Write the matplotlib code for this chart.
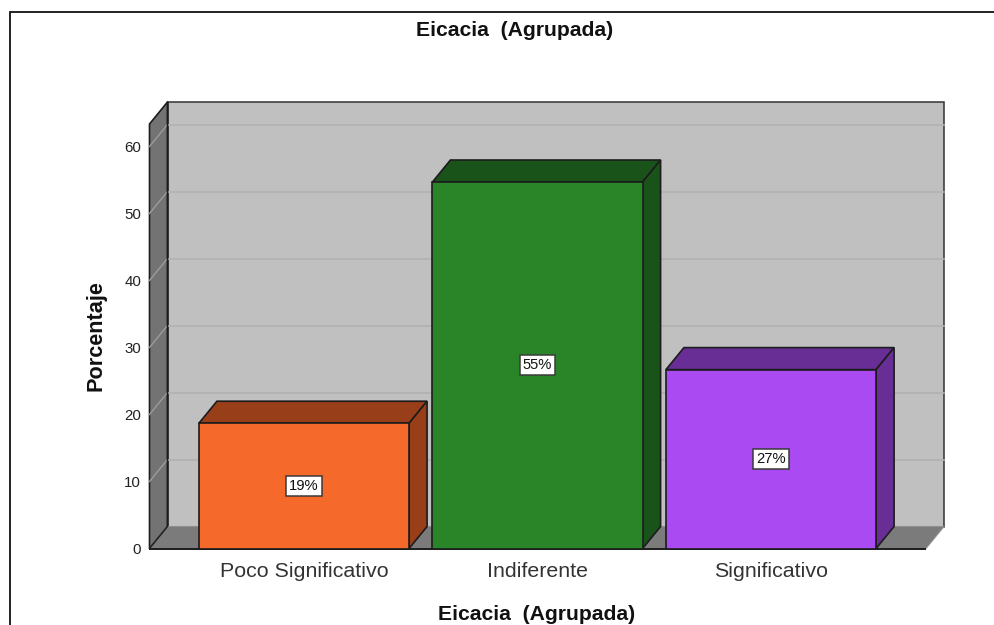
#!/usr/bin/python
# -*- coding: utf-8 -*-

import matplotlib
matplotlib.use("Agg")
import matplotlib.pyplot as plt
from matplotlib.patches import Polygon, Rectangle

plt.rcParams['font.family'] = ['Liberation Sans', 'DejaVu Sans']

# ----------------------------
# Data
# ----------------------------
categories = ["Poco Significativo", "Indiferente", "Significativo"]
porcentaje = [18.7, 54.7, 26.7]
front_colors = ["#f5692a", "#2a8529", "#a94af2"]
side_colors = ["#983f1a", "#1a5319", "#692d96"]
y_ticks = [0, 10, 20, 30, 40, 50, 60]
title = "Eicacia  (Agrupada)"
y_title = "Porcentaje"

W, H = 994, 625
left, right, bottom, top = 149.5, 926, 548.5, 124   # front plane, px
px_per_cat = 233.5
px_per_pct = 6.7
X_MIN = (left - 304) / px_per_cat
X_MAX = X_MIN + (right - left) / px_per_cat
Y_MAX = (bottom - top) / px_per_pct
DX = 18 / px_per_cat    # depth of the box, in data units
DY = 22 / px_per_pct
BAR_W = 0.9
EDGE = "#1c1c1c"

fig = plt.figure(figsize=(W / 100, H / 100), dpi=100)
ax = fig.add_axes([left / W, 1 - bottom / H, (right - left) / W, (bottom - top) / H])
ax.set_xlim(X_MIN, X_MAX)
ax.set_ylim(0, Y_MAX)
ax.set_facecolor("none")
for s in ax.spines.values():
    s.set_visible(False)


def poly(pts, color, z, lw=1.2, edge=EDGE):
    ax.add_patch(Polygon(pts, closed=True, facecolor=color, edgecolor=edge,
                         linewidth=lw, zorder=z, clip_on=False, joinstyle="miter"))


# ----------------------------
# Box: back wall, side wall, floor
# ----------------------------
x0, x1 = X_MIN, X_MAX
poly([(x0 + DX, DY), (x1 + DX, DY), (x1 + DX, Y_MAX + DY), (x0 + DX, Y_MAX + DY)],
     "#c0c0c0", 1, lw=1.1, edge="#333333")
poly([(x0, 0), (x0 + DX, DY), (x0 + DX, Y_MAX + DY), (x0, Y_MAX)], "#737373", 1.1)

# gridlines wrap from the side wall onto the back wall
for t in y_ticks[1:]:
    ax.plot([x0, x0 + DX], [t, t + DY], color="#9c9c9c", lw=1.0, zorder=1.2, clip_on=False)
    ax.plot([x0 + DX, x1 + DX], [t + DY, t + DY], color="#b1b1b1", lw=1.2, zorder=1.2,
            clip_on=False)

poly([(x0, 0), (x1, 0), (x1 + DX, DY), (x0 + DX, DY)], "#7b7b7b", 1.5, lw=0.8, edge="#8f8f8f")
ax.plot([x0, x1], [0, 0], color=EDGE, lw=1.4, zorder=2, clip_on=False, solid_capstyle="butt")
ax.plot([x0, x0 + DX, x0 + DX], [0, DY, Y_MAX + DY], color=EDGE, lw=1.0, zorder=1.6, clip_on=False)

# ----------------------------
# Bars
# ----------------------------
for i, (v, fc, sc) in enumerate(zip(porcentaje, front_colors, side_colors)):
    l, r = i - BAR_W / 2, i + BAR_W / 2
    poly([(l, v), (r, v), (r + DX, v + DY), (l + DX, v + DY)], sc, 3)
    poly([(r, 0), (r + DX, DY), (r + DX, v + DY), (r, v)], sc, 3)
    ax.add_patch(Rectangle((l, 0), BAR_W, v, facecolor=fc, edgecolor=EDGE,
                           linewidth=1.2, zorder=4, clip_on=False))
    ax.text(i, v / 2, f"{v:.0f}%", ha="center", va="center", fontsize=10.6, color="#111111",
            zorder=5, bbox=dict(boxstyle="square,pad=0.2", facecolor="white",
                                edgecolor="#3a3a3a", linewidth=1.1))

# ----------------------------
# Axes text
# ----------------------------
ax.set_xticks(range(len(categories)), categories)
ax.set_yticks(y_ticks)
ax.tick_params(axis="x", length=0, pad=10, labelsize=15.4, labelcolor="#333333")
ax.tick_params(axis="y", length=0, pad=6, labelsize=10.8, labelcolor="#222222")

fig.text(515 / W, 1 - 30.5 / H, title, ha="center", va="center", fontsize=15.2,
         fontweight="bold", color="#111111")
fig.text(537 / W, 1 - 615 / H, title, ha="center", va="center", fontsize=15.2,
         fontweight="bold", color="#111111")
fig.text(96.5 / W, 1 - 335.5 / H, y_title, ha="center", va="center", rotation=90, fontsize=15.6,
         fontweight="bold", color="#111111")

# Outer frame: only the top and left edges fall inside the figure
fig.add_artist(plt.Line2D([9.5 / W, 9.5 / W, 1], [0, 1 - 11.5 / H, 1 - 11.5 / H],
                          color="#111111", lw=1.3, solid_joinstyle="miter"))

fig.savefig("out.png", dpi=100)
